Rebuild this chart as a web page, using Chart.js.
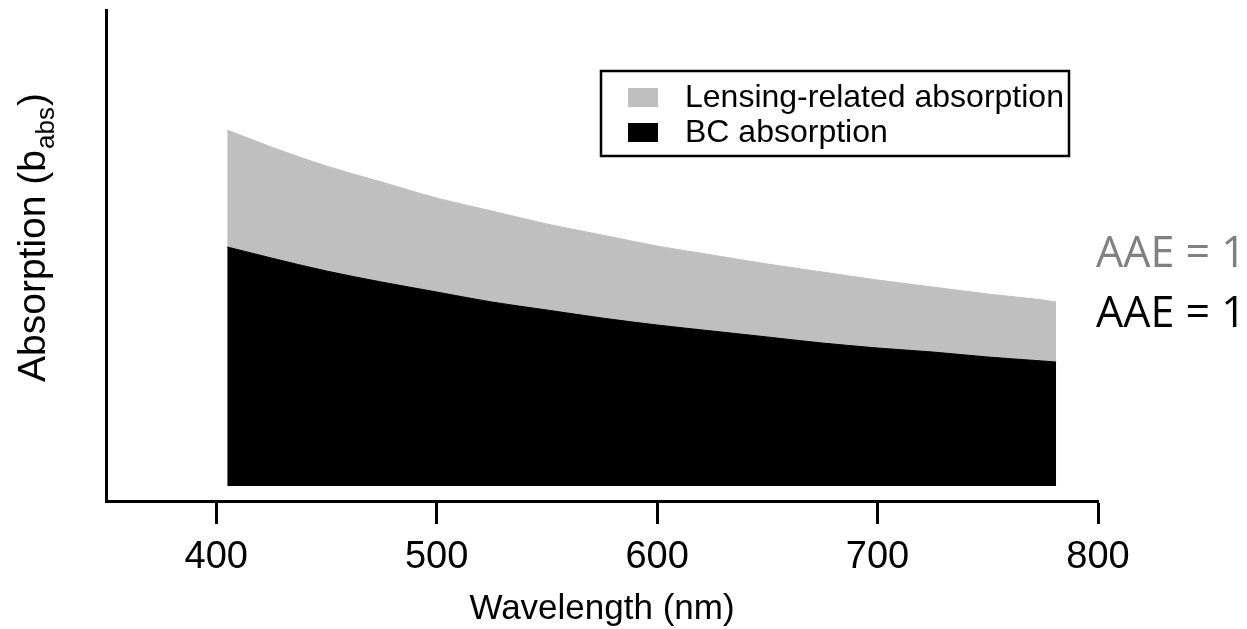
<!DOCTYPE html>
<html lang="en">
<head>
    <meta charset="UTF-8">
    <title>Absorption vs wavelength</title>
    <script src="https://cdn.jsdelivr.net/npm/chart.js"></script>
    <style>
        html, body { margin: 0; padding: 0; background: #fff; }
        #wrap { width: 1247px; height: 629px; }
    </style>
</head>
<body>
<div id="wrap">
    <canvas id="absChart" width="1247" height="629"></canvas>
</div>

<script>
    // values (y in arbitrary units, 0 = bottom of the fill)
    const wavelengths = [405, 425, 450, 475, 500, 525, 550, 575, 600, 625, 650, 675, 700, 725, 750, 775, 781];
    const bcAbs = [2.39, 2.28, 2.15, 2.04, 1.94, 1.84, 1.76, 1.68, 1.61, 1.55, 1.49, 1.43, 1.38, 1.34, 1.29, 1.25, 1.24];
    const totalAbs = [3.56, 3.39, 3.20, 3.04, 2.88, 2.75, 2.62, 2.51, 2.40, 2.31, 2.22, 2.14, 2.06, 1.99, 1.92, 1.86, 1.84];
    const xTicks = [400, 500, 600, 700, 800];
    const seriesNames = ['BC absorption', 'Lensing-related absorption'];
    const aaeLabels = ['AAE = 1', 'AAE = 1'];

    const fontMain = '"Liberation Sans", Arial, sans-serif';
    const grey = '#bfbfbf';

    function pts(ys) {
        return wavelengths.map((w, i) => ({ x: w, y: ys[i] }));
    }

    // legend box, the AAE notes and the y title with subscript
    const extras = {
        id: 'extras',
        afterDraw(chart) {
            const ctx = chart.ctx;
            ctx.save();

            // legend
            ctx.strokeStyle = '#000';
            ctx.lineWidth = 2.5;
            ctx.strokeRect(601, 71, 468, 85);
            const items = [
                { name: seriesNames[1], color: grey, y: 97 },
                { name: seriesNames[0], color: '#000', y: 132 }
            ];
            ctx.font = '32px ' + fontMain;
            ctx.textBaseline = 'middle';
            ctx.textAlign = 'left';
            items.forEach(it => {
                ctx.fillStyle = it.color;
                ctx.fillRect(628, it.y - 9, 30, 19);
                ctx.fillStyle = '#000';
                ctx.fillText(it.name, 685, it.y + 1);
            });

            // AAE notes
            ctx.font = '43px "Open Sans", sans-serif';
            ctx.textBaseline = 'alphabetic';
            ctx.fillStyle = '#808080';
            ctx.fillText(aaeLabels[1], 1096, 267);
            ctx.fillStyle = '#000';
            ctx.fillText(aaeLabels[0], 1096, 327);

            // y title
            ctx.translate(45, 382);
            ctx.rotate(-Math.PI / 2);
            ctx.textAlign = 'left';
            ctx.fillStyle = '#000';
            ctx.font = '39px ' + fontMain;
            const main = 'Absorption (b';
            ctx.fillText(main, 0, 0);
            let w = ctx.measureText(main).width;
            ctx.font = '26px ' + fontMain;
            ctx.fillText('abs', w + 1, 9);
            w += ctx.measureText('abs').width + 2;
            ctx.font = '39px ' + fontMain;
            ctx.fillText(')', w, 0);

            ctx.restore();
        }
    };

    new Chart(document.getElementById('absChart'), {
        type: 'line',
        data: {
            datasets: [{
                label: seriesNames[0],
                data: pts(bcAbs),
                borderColor: '#000',
                backgroundColor: '#000',
                borderWidth: 1,
                pointRadius: 0,
                cubicInterpolationMode: 'monotone',
                fill: 'origin'
            }, {
                label: seriesNames[1],
                data: pts(totalAbs),
                borderColor: grey,
                backgroundColor: grey,
                borderWidth: 1,
                pointRadius: 0,
                cubicInterpolationMode: 'monotone',
                fill: '-1'
            }]
        },
        options: {
            responsive: false,
            animation: false,
            events: [],
            layout: { padding: { left: 106, top: 10, right: 149, bottom: 0 } },
            plugins: {
                legend: { display: false },
                tooltip: { enabled: false }
            },
            scales: {
                x: {
                    type: 'linear',
                    min: 350,
                    max: 800,
                    afterBuildTicks: s => { s.ticks = xTicks.map(v => ({ value: v })); },
                    afterFit: s => { s.height = 128; },
                    grid: {
                        display: true,
                        drawOnChartArea: false,
                        drawTicks: true,
                        tickLength: 23,
                        tickWidth: 3,
                        tickColor: '#000'
                    },
                    border: { display: true, color: '#000', width: 3 },
                    ticks: {
                        color: '#000',
                        padding: 11,
                        maxRotation: 0,
                        font: { family: fontMain, size: 38 }
                    },
                    title: {
                        display: true,
                        text: 'Wavelength (nm)',
                        color: '#000',
                        padding: { top: 0, bottom: 0 },
                        font: { family: fontMain, size: 35, lineHeight: 1.1 }
                    }
                },
                y: {
                    min: -0.15,
                    max: 4.76,
                    afterFit: s => { s.width = 0; },
                    grid: { display: false },
                    border: { display: true, color: '#000', width: 3 },
                    ticks: { display: false }
                }
            }
        },
        plugins: [extras]
    });
</script>
</body>
</html>
